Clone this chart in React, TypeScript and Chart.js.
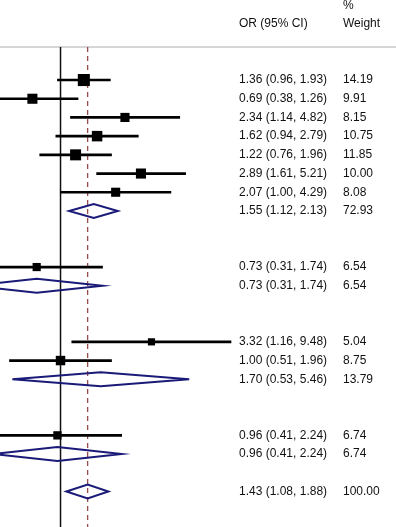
import React, { useEffect, useRef } from "react";
import { Chart, registerables } from "chart.js";

Chart.register(...registerables);

// Individual studies (row index, odds ratio, 95% CI, % weight)
const studyRows = [0, 1, 2, 3, 4, 5, 6, 10, 14, 15, 19];
const studyOR = [1.36, 0.69, 2.34, 1.62, 1.22, 2.89, 2.07, 0.73, 3.32, 1.0, 0.96];
const studyLo = [0.96, 0.38, 1.14, 0.94, 0.76, 1.61, 1.0, 0.31, 1.16, 0.51, 0.41];
const studyHi = [1.93, 1.26, 4.82, 2.79, 1.96, 5.21, 4.29, 1.74, 9.48, 1.96, 2.24];
const studyWeight = [14.19, 9.91, 8.15, 10.75, 11.85, 10.0, 8.08, 6.54, 5.04, 8.75, 6.74];

// Pooled estimates (subgroup subtotals and overall)
const poolRows = [7, 11, 16, 20, 22];
const poolOR = [1.55, 0.73, 1.7, 0.96, 1.43];
const poolLo = [1.12, 0.31, 0.53, 0.41, 1.08];
const poolHi = [2.13, 1.74, 5.46, 2.24, 1.88];
const poolWeight = [72.93, 6.54, 13.79, 6.74, 100.0];

// Header texts
const headerTop = ["", "%"];
const headerBottom = ["OR (95% CI)", "Weight"];

const nullValue = 1;
const overallOR = poolOR[poolOR.length - 1];

export default function App() {
  const ref = useRef<HTMLCanvasElement>(null);

  useEffect(() => {
    if (!ref.current) return;
    const FONT = '12px "Liberation Sans", Arial, sans-serif';
    const COL_OR = 239;
    const COL_W = 343;
    const HEADER_LINE_ROW = -1.77;

    const forestPlugin = {
      id: "forest",
      beforeDatasetsDraw(chart: any) {
        const { ctx, chartArea } = chart;
        const xs = chart.scales.x;
        const ys = chart.scales.y;
        const yTop = ys.getPixelForValue(HEADER_LINE_ROW);
        ctx.save();
        // header separator
        ctx.strokeStyle = "#c8c8c8";
        ctx.lineWidth = 1.5;
        ctx.beginPath();
        ctx.moveTo(chartArea.left, yTop);
        ctx.lineTo(chartArea.right, yTop);
        ctx.stroke();
        // null line
        const x1 = xs.getPixelForValue(nullValue);
        ctx.strokeStyle = "#111";
        ctx.lineWidth = 1.5;
        ctx.beginPath();
        ctx.moveTo(x1, yTop);
        ctx.lineTo(x1, chartArea.bottom);
        ctx.stroke();
        // overall estimate dashed line
        const xo = xs.getPixelForValue(overallOR);
        ctx.strokeStyle = "#9b4a4a";
        ctx.lineWidth = 1.3;
        ctx.setLineDash([5, 4]);
        ctx.beginPath();
        ctx.moveTo(xo, yTop);
        ctx.lineTo(xo, chartArea.bottom);
        ctx.stroke();
        ctx.restore();
      },
      afterDatasetsDraw(chart: any) {
        const { ctx } = chart;
        const xs = chart.scales.x;
        const ys = chart.scales.y;
        ctx.save();
        // diamonds
        ctx.strokeStyle = "#1a1a78";
        ctx.lineWidth = 2;
        ctx.lineJoin = "miter";
        poolRows.forEach((r, i) => {
          const y = ys.getPixelForValue(r);
          const xl = xs.getPixelForValue(poolLo[i]);
          const xc = xs.getPixelForValue(poolOR[i]);
          const xr = xs.getPixelForValue(poolHi[i]);
          ctx.beginPath();
          ctx.moveTo(xl, y);
          ctx.lineTo(xc, y - 7);
          ctx.lineTo(xr, y);
          ctx.lineTo(xc, y + 7);
          ctx.closePath();
          ctx.stroke();
        });
        // text columns
        ctx.font = FONT;
        ctx.fillStyle = "#111";
        ctx.textBaseline = "middle";
        ctx.textAlign = "left";
        const f = (v: number) => v.toFixed(2);
        studyRows.forEach((r, i) => {
          const y = ys.getPixelForValue(r);
          ctx.fillText(`${f(studyOR[i])} (${f(studyLo[i])}, ${f(studyHi[i])})`, COL_OR, y);
          ctx.fillText(f(studyWeight[i]), COL_W, y);
        });
        poolRows.forEach((r, i) => {
          const y = ys.getPixelForValue(r);
          ctx.fillText(`${f(poolOR[i])} (${f(poolLo[i])}, ${f(poolHi[i])})`, COL_OR, y);
          ctx.fillText(f(poolWeight[i]), COL_W, y);
        });
        // headers
        const yh1 = ys.getPixelForValue(-4);
        const yh2 = ys.getPixelForValue(-3);
        ctx.fillText(headerTop[0], COL_OR, yh1);
        ctx.fillText(headerTop[1], COL_W, yh1);
        ctx.fillText(headerBottom[0], COL_OR, yh2);
        ctx.fillText(headerBottom[1], COL_W, yh2);
        ctx.restore();
      },
    };

    const chart = new Chart(ref.current, {
      type: "bar",
      data: {
        datasets: [
          {
            type: "bar",
            indexAxis: "y",
            data: studyRows.map((r, i) => ({ x: [studyLo[i], studyHi[i]], y: r })),
            backgroundColor: "#000",
            borderWidth: 0,
            barThickness: 2,
            grouped: false,
          } as any,
          {
            type: "scatter",
            data: studyRows.map((r, i) => ({ x: studyOR[i], y: r })),
            pointStyle: "rect",
            pointRadius: studyWeight.map((w) => (3.2 * Math.sqrt(w)) / Math.SQRT2),
            pointBackgroundColor: "#000",
            backgroundColor: "#000",
            pointBorderWidth: 0,
            borderWidth: 0,
            showLine: false,
          } as any,
        ],
      },
      options: {
        responsive: false,
        animation: false,
        layout: { padding: 0, autoPadding: false },
        events: [],
        plugins: { legend: { display: false }, tooltip: { enabled: false } },
        scales: {
          x: {
            type: "logarithmic",
            min: 0.45,
            max: 83.6,
            display: false,
            offset: false,
            bounds: "data",
            grid: { offset: false },
          },
          y: {
            type: "linear",
            reverse: true,
            min: -4.28,
            max: 23.9,
            display: false,
            offset: false,
            beginAtZero: false,
          },
        },
      } as any,
      plugins: [forestPlugin],
    });
    return () => chart.destroy();
  }, []);

  return (
    <canvas
      ref={ref}
      width={396}
      height={527}
      style={{ position: "fixed", left: 0, top: 0, display: "block", background: "#fff" }}
    />
  );
}
